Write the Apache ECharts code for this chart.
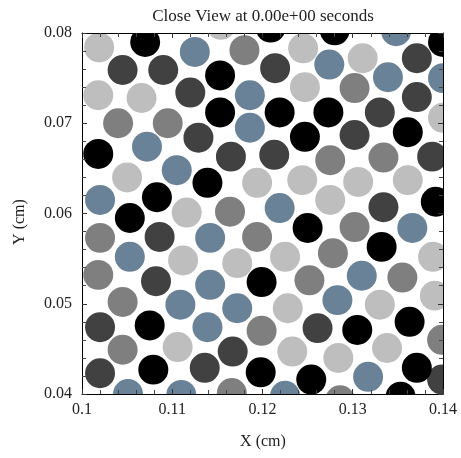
<!DOCTYPE html>
<html><head><meta charset="utf-8">
<script src="https://cdn.jsdelivr.net/npm/echarts/dist/echarts.min.js"></script>
<style>html,body{margin:0;padding:0;background:#fff}#c{width:461px;height:458px}</style>
</head><body><div id="c"></div>
<script>
const titleText = 'Close View at 0.00e+00 seconds';
const xName = 'X (cm)';
const yName = 'Y (cm)';
const xRange = [0.1, 0.14];
const yRange = [0.04, 0.08];
const particleRadius = 0.00166; // cm

const blackPts = [
  [0.1070,0.0790],[0.1209,0.0806],[0.1280,0.0803],[0.1400,0.0790],[0.1153,0.0753],
  [0.1153,0.0712],[0.1219,0.0712],[0.1273,0.0712],[0.1247,0.0685],[0.1361,0.0690],
  [0.1018,0.0666],[0.1139,0.0634],[0.1083,0.0618],[0.1392,0.0613],[0.1053,0.0595],
  [0.1250,0.0584],[0.1332,0.0563],[0.1199,0.0524],[0.1075,0.0476],[0.1305,0.0471],
  [0.1363,0.0480],[0.1079,0.0427],[0.1198,0.0424],[0.1254,0.0416],[0.1371,0.0429],
  [0.1353,0.0397]
];
const darkPts = [
  [0.1371,0.0772],[0.1045,0.0759],[0.1090,0.0759],[0.1214,0.0761],[0.1120,0.0734],
  [0.1371,0.0729],[0.1330,0.0712],[0.1302,0.0687],[0.1129,0.0684],[0.1165,0.0663],
  [0.1213,0.0665],[0.1388,0.0663],[0.1334,0.0607],[0.1086,0.0574],[0.1082,0.0525],
  [0.1020,0.0474],[0.1261,0.0473],[0.1167,0.0447],[0.1020,0.0423],[0.1136,0.0429],
  [0.1399,0.0416]
];
const midPts = [
  [0.1180,0.0781],[0.1302,0.0739],[0.1040,0.0700],[0.1095,0.0700],[0.1275,0.0659],
  [0.1334,0.0662],[0.1164,0.0602],[0.1020,0.0573],[0.1194,0.0574],[0.1302,0.0585],
  [0.1278,0.0556],[0.1018,0.0532],[0.1252,0.0526],[0.1355,0.0529],[0.1045,0.0502],
  [0.1199,0.0470],[0.1399,0.0460],[0.1045,0.0449],[0.1166,0.0401],[0.1286,0.0393]
];
const lightPts = [
  [0.1019,0.0784],[0.1154,0.0809],[0.1245,0.0783],[0.1311,0.0772],[0.1018,0.0731],
  [0.1066,0.0728],[0.1247,0.0740],[0.1400,0.0706],[0.1050,0.0640],[0.1194,0.0634],
  [0.1244,0.0637],[0.1306,0.0635],[0.1361,0.0637],[0.1116,0.0601],[0.1275,0.0615],
  [0.1112,0.0548],[0.1172,0.0545],[0.1225,0.0552],[0.1389,0.0552],[0.1391,0.0509],
  [0.1228,0.0495],[0.1330,0.0499],[0.1106,0.0452],[0.1233,0.0447],[0.1284,0.0440],
  [0.1338,0.0451]
];
const bluePts = [
  [0.1125,0.0779],[0.1348,0.0802],[0.1274,0.0765],[0.1186,0.0731],[0.1339,0.0751],
  [0.1400,0.0750],[0.1186,0.0695],[0.1072,0.0674],[0.1105,0.0648],[0.1020,0.0615],
  [0.1219,0.0606],[0.1142,0.0573],[0.1366,0.0584],[0.1053,0.0552],[0.1142,0.0521],
  [0.1310,0.0531],[0.1109,0.0499],[0.1172,0.0495],[0.1283,0.0504],[0.1139,0.0474],
  [0.1317,0.0419],[0.1051,0.0400],[0.1110,0.0399],[0.1225,0.0398]
];

const serif = '"Liberation Serif", "DejaVu Serif", serif';
const txtColor = '#222';

function particles(name, pts, color) {
  return {
    type: 'custom', name: name, data: pts, clip: true, z: 2,
    encode: { x: 0, y: 1 },
    renderItem: function (params, api) {
      const c = api.coord([api.value(0), api.value(1)]);
      const s = api.size([particleRadius, particleRadius]);
      return { type: 'circle', shape: { cx: c[0], cy: c[1], r: s[0] }, style: { fill: color } };
    }
  };
}

function axisCommon(showLabel, fmt, margin) {
  return {
    type: 'value', interval: 0.01, z: 10,
    axisLine: { show: true, onZero: false, lineStyle: { color: '#000', width: 1 } },
    axisTick: { show: true, inside: true, length: 5, lineStyle: { color: '#333', width: 1 } },
    minorTick: { show: true, splitNumber: 5, length: 4, lineStyle: { color: '#444', width: 1 } },
    splitLine: { show: false },
    minorSplitLine: { show: false },
    axisLabel: { show: showLabel, fontFamily: serif, fontSize: 16, color: txtColor, margin: margin, formatter: fmt }
  };
}
const fmt = v => String(+v.toFixed(2));

const chart = echarts.init(document.getElementById('c'), null, { renderer: 'canvas' });
chart.setOption({
  animation: false,
  backgroundColor: '#fff',
  grid: { left: 82, top: 33, width: 361, height: 361, show: false },
  xAxis: [
    Object.assign(axisCommon(true, fmt, 8), { min: xRange[0], max: xRange[1], position: 'bottom' }),
    Object.assign(axisCommon(false, fmt, 8), { min: xRange[0], max: xRange[1], position: 'top' })
  ],
  yAxis: [
    Object.assign(axisCommon(true, fmt, 10), { min: yRange[0], max: yRange[1], position: 'left' }),
    Object.assign(axisCommon(false, fmt, 10), { min: yRange[0], max: yRange[1], position: 'right' })
  ],
  series: [
    particles('light', lightPts, '#bebebe'),
    particles('mid', midPts, '#7f7f7f'),
    particles('blue', bluePts, '#6a8297'),
    particles('dark', darkPts, '#414141'),
    particles('black', blackPts, '#000000')
  ],
  graphic: [
    { type: 'text', x: 263, y: 17, z: 20,
      style: { text: titleText, font: '17px ' + serif, fill: txtColor, align: 'center', verticalAlign: 'middle', textAlign: 'center', textVerticalAlign: 'middle' } },
    { type: 'text', x: 263, y: 442, z: 20,
      style: { text: xName, font: '16px ' + serif, fill: txtColor, align: 'center', verticalAlign: 'middle', textAlign: 'center', textVerticalAlign: 'middle' } },
    { type: 'text', x: 20, y: 222, rotation: Math.PI / 2, z: 20,
      style: { text: yName, font: '16px ' + serif, fill: txtColor, align: 'center', verticalAlign: 'middle', textAlign: 'center', textVerticalAlign: 'middle' } }
  ]
});
</script>
</body></html>
